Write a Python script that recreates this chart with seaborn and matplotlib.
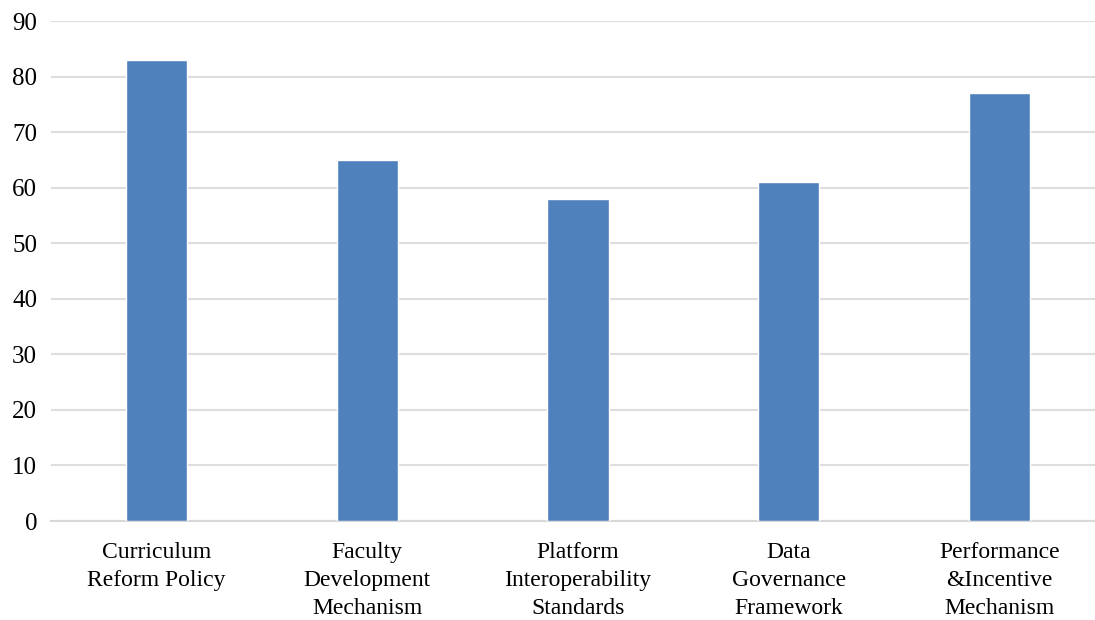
import matplotlib
matplotlib.use("Agg")
import matplotlib.pyplot as plt
import seaborn as sns
import pandas as pd

categories = ["Curriculum\nReform Policy", "Faculty\nDevelopment\nMechanism",
              "Platform\nInteroperability\nStandards", "Data\nGovernance\nFramework",
              "Performance\n&Incentive\nMechanism"]
scores = [83, 65, 58, 61, 77]
yticks = [0, 10, 20, 30, 40, 50, 60, 70, 80, 90]

sns.set_theme(style="white")
plt.rcParams["font.family"] = ["Liberation Serif", "DejaVu Serif"]

df = pd.DataFrame({"category": categories, "score": scores})

fig = plt.figure(figsize=(10.95, 6.2), dpi=100)
W, H = 1095, 620
ax = fig.add_axes([51 / W, 99 / H, (1105 - 51) / W, 500 / H])

sns.barplot(data=df, x="category", y="score", color="#4f81bd", saturation=1,
            width=0.29, ax=ax, zorder=3)

ax.set_ylim(0, 90)
ax.set_xlim(-0.5, len(categories) - 0.5)
ax.set_yticks(yticks)
ax.yaxis.grid(True, color="#dedede", linewidth=1.5, zorder=0)
ax.set_axisbelow(True)
for s in ["top", "right", "left"]:
    ax.spines[s].set_visible(False)
ax.spines["bottom"].set_color("#d9d9d9")
ax.spines["bottom"].set_linewidth(1.5)
ax.tick_params(axis="both", length=0, labelsize=17, colors="black")
ax.tick_params(axis="y", pad=10, labelsize=18)
ax.tick_params(axis="x", pad=15)
for lbl in ax.get_xticklabels():
    lbl.set_linespacing(1.45)
ax.set_xlabel("")
ax.set_ylabel("")

fig.savefig("out.png", dpi=100)
